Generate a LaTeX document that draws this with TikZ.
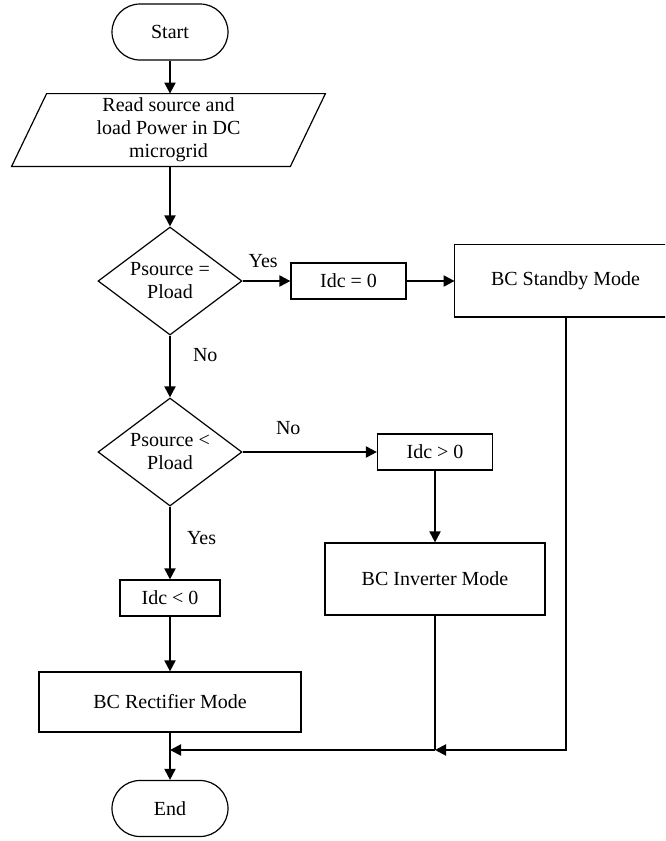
\documentclass[tikz,border=0pt]{standalone}
\usepackage{fontspec}
\setmainfont{Liberation Serif}
\usetikzlibrary{shapes.geometric, arrows.meta, calc, positioning}

\tikzset{
    terminal/.style={draw, line width=0.6pt, rounded corners=14pt,
        minimum width=58pt, minimum height=28pt},
    process/.style={draw, line width=0.6pt, inner sep=0pt},
    decision/.style={draw, diamond, line width=0.6pt, aspect=1.333,
        inner sep=0pt, minimum width=72pt, minimum height=54pt, align=center},
    flow/.style={line width=1pt, ->},
    tag/.style={inner sep=2pt}
}

\begin{document}
\begin{tikzpicture}[x=0.5pt, y=-0.5pt, >={Triangle[length=5.5pt, width=5.5pt]},
        font=\fontsize{10}{11.5}\selectfont]
        \useasboundingbox (0,0) rectangle (665,841);
        \clip (0,0) rectangle (665,841);

        % shapes
        \node[terminal] (start) at (170,32) {Start};

        \node[align=center, minimum width=139pt, minimum height=36pt, inner sep=0pt]
            (read) at (168.5,130) {Read source and\\load Power in DC\\microgrid};
        \draw[line width=0.6pt]
            ($(read.north west)+(17.5,0)$) -- ($(read.north east)+(17.5,0)$)
            -- ($(read.south east)+(-17.5,0)$) -- ($(read.south west)+(-17.5,0)$) -- cycle;

        \node[decision] (equal) at (170,281) {Psource =\\Pload};
        \node[process, minimum width=57.5pt, minimum height=18pt] (idczero) at (348.5,281) {Idc = 0};
        % standby box runs past the right margin
        \node[inner sep=0pt, minimum width=110.5pt, minimum height=36pt] (standby) at (565.5,281) {BC Standby Mode};
        \draw[line width=0.6pt] (standby.north west) rectangle (720,317);

        \node[decision] (less) at (170,452) {Psource <\\Pload};
        \node[process, minimum width=57.5pt, minimum height=18pt] (idcpos) at (435,452) {Idc > 0};
        \node[process, minimum width=110pt, minimum height=36pt] (inverter) at (435,579) {BC Inverter Mode};

        \node[process, minimum width=50pt, minimum height=18pt] (idcneg) at (170,598) {Idc < 0};
        \node[process, minimum width=131pt, minimum height=30pt] (rectifier) at (170,702) {BC Rectifier Mode};

        \node[terminal] (end) at (170,808.5) {End};

        % joins
        \coordinate (joinA) at (435,750);
        \coordinate (joinB) at (170,750);

        % connectors
        \draw[flow] (start) -- (read.north -| start);
        \draw[flow] (read.south -| equal) -- (equal.north);
        \draw[flow] (equal.east) -- (idczero.west)
            node[tag, pos=0.43, above=4pt] (yesA) {Yes};
        \draw[flow] (idczero) -- (standby);
        \draw[flow] (equal.south) -- (less.north)
            node[tag, pos=0.32, right=9pt] (noA) {No};
        \draw[flow] (less.east) -- (idcpos.west)
            node[tag, pos=0.34, above=6pt] (noB) {No};
        \draw[flow] (idcpos) -- (inverter);
        \draw[flow] (less.south) -- (idcneg.north)
            node[tag, pos=0.43, right=6pt] (yesB) {Yes};
        \draw[flow] (idcneg) -- (rectifier);
        \draw[flow] (rectifier) -- (end);

        \draw[flow] (standby.south) |- (joinA);
        \draw[line width=1pt] (inverter.south) -- (joinA);
        \draw[flow] (joinA) -- (joinB);
    \end{tikzpicture}
\end{document}
